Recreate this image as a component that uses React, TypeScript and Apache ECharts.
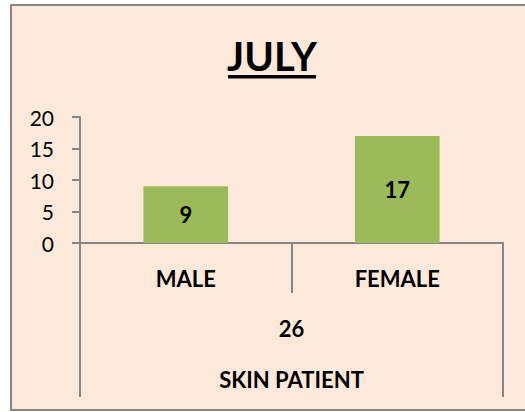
import React, { useEffect, useRef } from "react";
import * as echarts from "echarts";

const categories = ["MALE", "FEMALE"];
const patients = [9, 17];
const groupName = ["SKIN PATIENT"];
const groupTotals = [26];
const yTicks = { min: 0, max: 20, interval: 5 };
const title = "JULY";

const FONT = "Lato, 'Open Sans', sans-serif";
const GRAY = "#868686";

export default function App() {
  const ref = useRef<HTMLDivElement>(null);
  useEffect(() => {
    if (!ref.current) return;
    const chart = echarts.init(ref.current, null, { renderer: "svg" });
    chart.setOption({
      animation: false,
      backgroundColor: "#ffffff",
      graphic: [
        {
          type: "rect",
          z: -10,
          shape: { x: 11, y: 5, width: 530, height: 405 },
          style: { fill: "#FDE9D9", stroke: GRAY, lineWidth: 2 },
        },
        {
          type: "text",
          x: 272,
          y: 56,
          style: {
            text: title,
            font: `bold 40px ${FONT}`,
            fill: "#000",
            align: "center",
            verticalAlign: "middle",
          },
        },
        {
          type: "rect",
          shape: { x: 228, y: 75, width: 88, height: 3.5 },
          style: { fill: "#000" },
        },
      ],
      grid: { left: 80, right: 22, top: 117, bottom: 169, containLabel: false },
      xAxis: [
        {
          type: "category",
          data: categories,
          position: "bottom",
          axisLine: { show: true, lineStyle: { color: GRAY, width: 2 } },
          axisTick: { show: true, length: 50, lineStyle: { color: GRAY, width: 2 } },
          axisLabel: {
            margin: 22,
            color: "#000",
            fontFamily: FONT,
            fontWeight: "bold",
            fontSize: 22,
            lineHeight: 26,
          },
        },
        {
          type: "category",
          data: groupName,
          position: "bottom",
          axisLine: { show: false },
          axisTick: { show: true, length: 154, lineStyle: { color: GRAY, width: 2 } },
          axisLabel: {
            margin: 60,
            color: "#000",
            formatter: (v: string, i: number) => `{t|${groupTotals[i]}}\n{n|${v}}`,
            rich: {
              t: { fontFamily: FONT, fontWeight: "bold", fontSize: 22, lineHeight: 51, color: "#000" },
              n: { fontFamily: FONT, fontWeight: "bold", fontSize: 22, lineHeight: 51, color: "#000" },
            },
          },
        },
      ],
      yAxis: {
        type: "value",
        min: yTicks.min,
        max: yTicks.max,
        interval: yTicks.interval,
        axisLine: { show: true, lineStyle: { color: GRAY, width: 2 } },
        axisTick: { show: true, length: 8, lineStyle: { color: GRAY, width: 2 } },
        splitLine: { show: false },
        axisLabel: { margin: 26, color: "#000", fontFamily: FONT, fontSize: 21 },
      },
      series: [
        {
          type: "bar",
          data: patients,
          xAxisIndex: 0,
          barWidth: "40%",
          itemStyle: { color: "#9BBB59" },
          label: {
            show: true,
            position: "inside",
            color: "#000",
            fontFamily: FONT,
            fontWeight: "bold",
            fontSize: 22,
          },
        },
      ],
    });
    return () => chart.dispose();
  }, []);
  return (
    <div
      ref={ref}
      style={{ position: "fixed", left: 0, top: 0, width: 525, height: 412 }}
    />
  );
}
